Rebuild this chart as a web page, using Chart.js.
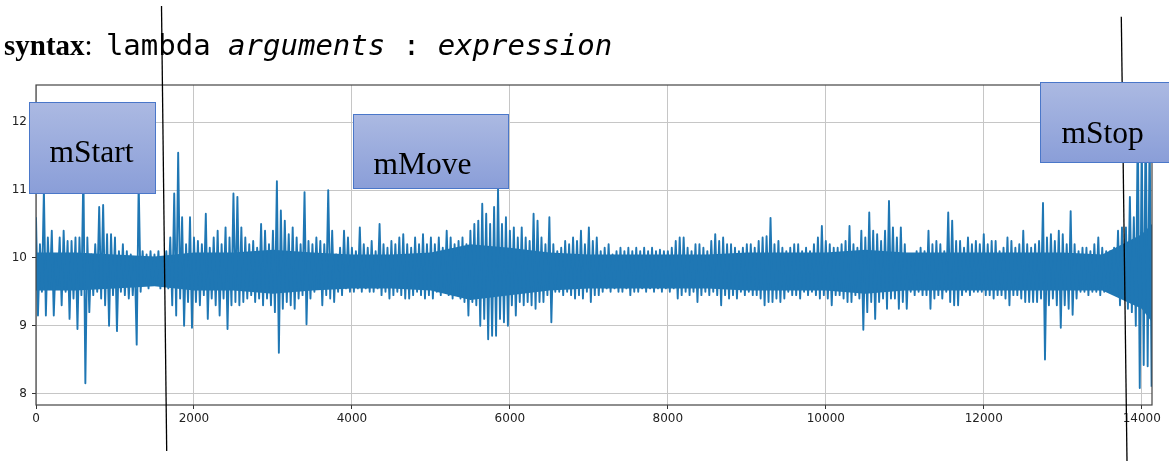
<!DOCTYPE html>
<html>
<head>
<meta charset="utf-8">
<script src="https://cdn.jsdelivr.net/npm/chart.js"></script>
<style>
  html, body { margin: 0; padding: 0; background: #fff; overflow: hidden; }
  #wrap { position: relative; width: 1169px; height: 461px; }
  #chart { position: absolute; left: 0; top: 0; }
  #marks { position: absolute; left: 0; top: 0; }
  .hdr { position: absolute; left: 4px; top: 31px; font-size: 29px; line-height: 29px; white-space: pre; color: #000; }
  .serif { font-family: "Liberation Serif", "Times New Roman", serif; }
  .mono { font-family: "DejaVu Sans Mono", monospace; }
  .box {
    position: absolute; box-sizing: border-box;
    border: 1.3px solid #4a77c9;
    background: linear-gradient(to bottom, #abb9e2, #8a9ed8);
  }
  .lbl { position: absolute; font-family: "Liberation Serif", "Times New Roman", serif; font-size: 31.5px; line-height: 31.5px; color: #000; white-space: pre; }
</style>
</head>
<body>
<div id="wrap">
  <canvas id="chart" width="1169" height="461"></canvas>
  <svg id="marks" width="1169" height="461">
    <line x1="161.5" y1="6" x2="166.7" y2="451" stroke="#000" stroke-width="1.3"/>
    <line x1="1121.3" y1="16.7" x2="1127" y2="461" stroke="#000" stroke-width="1.3"/>
  </svg>
  <div class="hdr"><span class="serif" style="font-weight:bold">syntax</span><span class="serif">: </span><span class="mono" style="padding-left:6px">lambda </span><span class="mono" style="font-style:italic">arguments</span><span class="mono"> : </span><span class="mono" style="font-style:italic">expression</span></div>
  <div class="box" style="left:29px; top:102px; width:127px; height:92px;"></div>
  <div class="lbl" style="left:49.5px; top:135.6px;">mStart</div>
  <div class="box" style="left:353px; top:113.5px; width:156px; height:75.5px;"></div>
  <div class="lbl" style="left:373.5px; top:147.6px;">mMove</div>
  <div class="box" style="left:1040px; top:81.5px; width:140px; height:81.5px;"></div>
  <div class="lbl" style="left:1061.5px; top:116.6px;">mStop</div>
</div>
<script>
// signal: each bucket is 50 samples,
// upper = highest value in the bucket, lower = lowest value
const bucketSize = 50;
const upper = [
  10.6, 10.2, 11.0, 10.3, 10.4, 10.0, 10.3, 10.4, 10.25, 10.25,
  10.3, 10.3, 11.3, 10.3, 10.05, 10.2, 10.75, 10.78, 10.35, 10.35,
  10.3, 10.1, 10.2, 10.1, 10.05, 10.0, 11.1, 10.1, 10.05, 10.1,
  10.05, 10.1, 10.0, 10.1, 10.3, 10.95, 11.55, 10.6, 10.2, 10.6,
  10.3, 10.25, 10.2, 10.65, 10.15, 10.3, 10.4, 10.2, 10.45, 10.3,
  10.95, 10.9, 10.45, 10.3, 10.2, 10.25, 10.15, 10.5, 10.4, 10.2,
  10.4, 11.13, 10.7, 10.55, 10.35, 10.45, 10.3, 10.2, 10.97, 10.25,
  10.2, 10.3, 10.25, 10.2, 11.0, 10.4, 10.05, 10.15, 10.4, 10.3,
  10.15, 10.1, 10.45, 10.2, 10.15, 10.25, 10.1, 10.5, 10.2, 10.15,
  10.25, 10.2, 10.3, 10.35, 10.2, 10.15, 10.3, 10.2, 10.35, 10.2,
  10.3, 10.2, 10.3, 10.15, 10.4, 10.3, 10.2, 10.25, 10.3, 10.2,
  10.4, 10.5, 10.55, 10.8, 10.65, 10.5, 10.75, 11.02, 10.5, 10.6,
  10.4, 10.45, 10.3, 10.45, 10.3, 10.25, 10.65, 10.55, 10.3, 10.2,
  10.6, 10.2, 10.1, 10.15, 10.25, 10.2, 10.3, 10.25, 10.4, 10.2,
  10.45, 10.25, 10.3, 10.1, 10.15, 10.2, 10.05, 10.1, 10.15, 10.1,
  10.15, 10.1, 10.15, 10.1, 10.15, 10.1, 10.15, 10.1, 10.12, 10.1,
  10.1, 10.15, 10.25, 10.3, 10.3, 10.15, 10.1, 10.2, 10.2, 10.15,
  10.1, 10.25, 10.35, 10.25, 10.3, 10.2, 10.2, 10.15, 10.1, 10.15,
  10.2, 10.2, 10.15, 10.25, 10.3, 10.32, 10.59, 10.2, 10.25, 10.15,
  10.1, 10.15, 10.2, 10.2, 10.1, 10.15, 10.1, 10.2, 10.3, 10.47,
  10.25, 10.2, 10.15, 10.15, 10.2, 10.25, 10.47, 10.2, 10.15, 10.4,
  10.3, 10.67, 10.4, 10.35, 10.25, 10.4, 10.84, 10.45, 10.3, 10.45,
  10.2, 10.05, 10.05, 10.1, 10.15, 10.1, 10.4, 10.2, 10.25, 10.2,
  10.1, 10.67, 10.55, 10.25, 10.25, 10.15, 10.3, 10.2, 10.25, 10.2,
  10.35, 10.2, 10.25, 10.25, 10.1, 10.15, 10.3, 10.25, 10.15, 10.2,
  10.4, 10.2, 10.15, 10.2, 10.25, 10.81, 10.3, 10.35, 10.25, 10.4,
  10.35, 10.2, 10.69, 10.2, 10.1, 10.15, 10.15, 10.1, 10.2, 10.3,
  10.15, 10.1, 10.1, 10.15, 10.4, 10.45, 10.45, 10.9, 10.6, 12.0,
  11.8, 12.2, 11.9
];
const lower = [
  9.15, 9.5, 9.15, 9.55, 9.15, 9.6, 9.3, 9.5, 9.1, 9.4,
  8.95, 9.45, 8.15, 9.2, 9.45, 9.5, 9.4, 9.3, 9.0, 9.45,
  8.92, 9.5, 9.45, 9.4, 9.45, 8.72, 9.5, 9.6, 9.55, 9.6,
  9.6, 9.55, 9.6, 9.55, 9.3, 9.15, 9.4, 9.0, 9.35, 8.97,
  9.35, 9.3, 9.45, 9.1, 9.4, 9.3, 9.15, 9.4, 8.95, 9.3,
  9.35, 9.3, 9.35, 9.4, 9.45, 9.35, 9.4, 9.3, 9.4, 9.3,
  9.2, 8.6, 9.25, 9.35, 9.3, 9.25, 9.4, 9.45, 9.02, 9.4,
  9.5, 9.55, 9.3, 9.45, 9.4, 9.35, 9.5, 9.45, 9.55, 9.5,
  9.5, 9.55, 9.5, 9.55, 9.5, 9.5, 9.55, 9.45, 9.5, 9.4,
  9.45, 9.5, 9.45, 9.4, 9.4, 9.45, 9.5, 9.45, 9.4, 9.45,
  9.4, 9.5, 9.45, 9.5, 9.45, 9.4, 9.45, 9.4, 9.35, 9.15,
  9.35, 9.3, 9.0, 9.1, 8.8, 8.85, 8.85, 9.1, 9.05, 9.0,
  9.3, 9.15, 9.35, 9.3, 9.35, 9.3, 9.25, 9.35, 9.35, 9.45,
  9.05, 9.5, 9.5, 9.45, 9.5, 9.45, 9.4, 9.45, 9.4, 9.5,
  9.35, 9.45, 9.45, 9.5, 9.55, 9.5, 9.55, 9.5, 9.5, 9.55,
  9.45, 9.5, 9.5, 9.55, 9.5, 9.55, 9.5, 9.55, 9.5, 9.55,
  9.5, 9.55, 9.4, 9.45, 9.5, 9.45, 9.5, 9.35, 9.45, 9.5,
  9.45, 9.5, 9.45, 9.3, 9.45, 9.4, 9.45, 9.4, 9.5, 9.45,
  9.5, 9.45, 9.45, 9.4, 9.3, 9.35, 9.35, 9.4, 9.35, 9.4,
  9.5, 9.45, 9.45, 9.4, 9.5, 9.45, 9.5, 9.45, 9.4, 9.45,
  9.4, 9.3, 9.45, 9.45, 9.4, 9.35, 9.35, 9.45, 9.4, 8.94,
  9.2, 9.35, 9.1, 9.35, 9.4, 9.25, 9.4, 9.4, 9.25, 9.35,
  9.25, 9.5, 9.45, 9.5, 9.45, 9.45, 9.25, 9.4, 9.45, 9.4,
  9.5, 9.35, 9.3, 9.3, 9.45, 9.5, 9.45, 9.5, 9.5, 9.5,
  9.45, 9.45, 9.4, 9.45, 9.45, 9.4, 9.3, 9.45, 9.45, 9.4,
  9.35, 9.35, 9.35, 9.35, 9.4, 8.5, 9.3, 9.4, 9.3, 8.97,
  9.3, 9.25, 9.16, 9.4, 9.5, 9.5, 9.45, 9.5, 9.5, 9.45,
  9.5, 9.55, 9.5, 9.5, 9.3, 9.4, 9.25, 9.2, 9.0, 8.08,
  8.42, 8.4, 8.1
];
// extent of the solid, densely overdrawn part of the trace, every 500 samples
const coreX = [0, 500, 1000, 1500, 2000, 2500, 3000, 3500, 4000, 4500, 5000, 5500, 6000, 6500,
  7000, 7500, 8000, 8500, 9000, 9500, 10000, 10500, 11000, 11500, 12000, 12500, 13000, 13500, 14000, 14130];
const coreTop = [10.08, 10.08, 10.05, 10.02, 10.08, 10.08, 10.12, 10.08, 10.05, 10.05, 10.08, 10.2, 10.15, 10.08,
  10.05, 10.05, 10.05, 10.05, 10.08, 10.08, 10.08, 10.12, 10.08, 10.08, 10.08, 10.08, 10.08, 10.05, 10.35, 10.5];
const coreBottom = [9.52, 9.52, 9.55, 9.58, 9.52, 9.52, 9.47, 9.52, 9.55, 9.55, 9.52, 9.38, 9.45, 9.52,
  9.55, 9.55, 9.55, 9.55, 9.52, 9.52, 9.52, 9.47, 9.52, 9.52, 9.52, 9.52, 9.52, 9.52, 9.25, 9.05];

const xTicks = [0, 2000, 4000, 6000, 8000, 10000, 12000, 14000];
const yTicks = [8, 9, 10, 11, 12];
const xMax = 14130;
const yMin = 7.83, yMax = 12.55;

// zig-zag through the bucket extremes so the band reads as one dense trace
const points = [];
upper.forEach((v, i) => {
  points.push({ x: i * bucketSize, y: v });
  points.push({ x: i * bucketSize + bucketSize / 2, y: lower[i] });
});
const topPts = coreX.map((x, i) => ({ x: x, y: coreTop[i] }));
const bottomPts = coreX.map((x, i) => ({ x: x, y: coreBottom[i] }));

const lineBlue = "#1f77b4";
const tickFont = { family: "DejaVu Sans", size: 12 };

// full box around the plot, like matplotlib spines
const frame = {
  id: "frame",
  afterDatasetsDraw(chart) {
    const { ctx, chartArea: a } = chart;
    ctx.save();
    ctx.strokeStyle = "#444";
    ctx.lineWidth = 1.2;
    ctx.strokeRect(a.left, a.top, a.right - a.left, a.bottom - a.top);
    ctx.restore();
  }
};

new Chart(document.getElementById("chart"), {
  type: "line",
  data: {
    datasets: [
      {
        data: points,
        borderColor: lineBlue,
        borderWidth: 1.9,
        borderJoinStyle: "round",
        pointRadius: 0,
        tension: 0,
        fill: false
      },
      {
        data: topPts,
        borderColor: lineBlue,
        borderWidth: 0,
        backgroundColor: lineBlue,
        pointRadius: 0,
        tension: 0,
        fill: "+1"
      },
      {
        data: bottomPts,
        borderColor: lineBlue,
        borderWidth: 0,
        pointRadius: 0,
        tension: 0,
        fill: false
      }
    ]
  },
  options: {
    responsive: false,
    animation: false,
    events: [],
    layout: { padding: { left: 0, right: 17, top: 85, bottom: 0 }, autoPadding: false },
    plugins: { legend: { display: false }, tooltip: { enabled: false } },
    scales: {
      x: {
        type: "linear",
        min: 0,
        max: xMax,
        afterFit(s) { s.height = 56; },
        afterBuildTicks(s) { s.ticks = xTicks.map(v => ({ value: v })); },
        ticks: { font: tickFont, color: "#222", padding: 3, maxRotation: 0, autoSkip: false, callback: v => String(v) },
        grid: { color: "#c6c6c6", lineWidth: 1, tickColor: "#333", tickLength: 4 },
        border: { display: false }
      },
      y: {
        type: "linear",
        min: yMin,
        max: yMax,
        afterFit(s) { s.width = 36; },
        afterBuildTicks(s) { s.ticks = yTicks.map(v => ({ value: v })); },
        ticks: { font: tickFont, color: "#222", padding: 5, autoSkip: false, callback: v => String(v) },
        grid: { color: "#c6c6c6", lineWidth: 1, tickColor: "#333", tickLength: 4 },
        border: { display: false }
      }
    }
  },
  plugins: [frame]
});
</script>
</body>
</html>
